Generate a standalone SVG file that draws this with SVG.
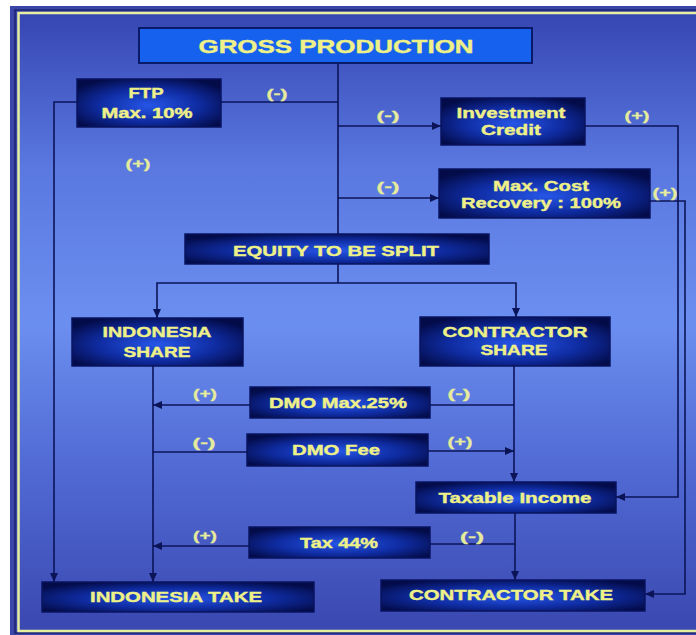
<svg xmlns="http://www.w3.org/2000/svg" width="696" height="635" viewBox="0 0 696 635">
<defs>
<linearGradient id="bg" x1="0" y1="0" x2="0" y2="1">
<stop offset="0" stop-color="#3646b2"/>
<stop offset="0.25" stop-color="#5a78e0"/>
<stop offset="0.5" stop-color="#6b8ff0"/>
<stop offset="0.75" stop-color="#5068d2"/>
<stop offset="1" stop-color="#3a48b0"/>
</linearGradient>
<radialGradient id="ng" cx="50%" cy="55%" r="62%">
<stop offset="0" stop-color="#2656e8"/>
<stop offset="0.55" stop-color="#0f2ca2"/>
<stop offset="1" stop-color="#030b48"/>
</radialGradient>
<marker id="ah" markerUnits="userSpaceOnUse" markerWidth="9" markerHeight="8" refX="9" refY="4" orient="auto">
<path d="M0,0 L9,4 L0,8 z" fill="#0c1458"/>
</marker>
<style>
.nd{fill:url(#ng);stroke:#0a1460;stroke-width:1.5}
.nt{font-family:"Liberation Sans",Arial,sans-serif;font-weight:bold;fill:#eef088;stroke:#eef088;stroke-width:0.4;text-anchor:middle;font-size:15px}
.lb{font-family:"Liberation Sans",Arial,sans-serif;font-weight:bold;fill:#e6ec9c;stroke:#e6ec9c;stroke-width:0.3;text-anchor:middle;font-size:13px}
.cn path{fill:none;stroke:#0c1458;stroke-width:1.6}
.ar{marker-end:url(#ah)}
</style>
</defs>
<rect x="0" y="0" width="696" height="635" fill="#ffffff"/>
<rect x="10" y="6" width="686" height="629" fill="#3a46a8"/>
<rect x="15" y="10" width="700" height="623" fill="none" stroke="#1c2470" stroke-width="1.5"/>
<rect x="18.5" y="13" width="700" height="618" fill="url(#bg)" stroke="#e8f0a0" stroke-width="2.5"/>

<g class="cn" id="connectors">
<path d="M77 102 H54 V582" class="ar"/>
<path d="M221 102 H338"/>
<path d="M338 62 V234"/>
<path d="M338 126 H441" class="ar"/>
<path d="M338 198 H439" class="ar"/>
<path d="M585 126 H678 V497 H616" class="ar"/>
<path d="M650 201 H685 V594 H645" class="ar"/>
<path d="M338 264 V283"/>
<path d="M338 283 H157 V318" class="ar"/>
<path d="M338 283 H516 V317" class="ar"/>
<path d="M153 366 V582" class="ar"/>
<path d="M250 405 H153" class="ar"/>
<path d="M514 405 H430"/>
<path d="M514 366 V482" class="ar"/>
<path d="M153 452 H247"/>
<path d="M428 451 H514" class="ar"/>
<path d="M515 513 V580" class="ar"/>
<path d="M515 544 H430"/>
<path d="M249 546 H153" class="ar"/>
</g>

<g id="labels">
<text class="lb" x="277" y="98" textLength="21" lengthAdjust="spacingAndGlyphs">(-)</text>
<text class="lb" x="138" y="168" textLength="25" lengthAdjust="spacingAndGlyphs">(+)</text>
<text class="lb" x="388" y="120" textLength="23" lengthAdjust="spacingAndGlyphs">(-)</text>
<text class="lb" x="637" y="120" textLength="25" lengthAdjust="spacingAndGlyphs">(+)</text>
<text class="lb" x="388" y="191" textLength="23" lengthAdjust="spacingAndGlyphs">(-)</text>
<text class="lb" x="665" y="197" textLength="25" lengthAdjust="spacingAndGlyphs">(+)</text>
<text class="lb" x="205" y="398" textLength="24" lengthAdjust="spacingAndGlyphs">(+)</text>
<text class="lb" x="459" y="398" textLength="23" lengthAdjust="spacingAndGlyphs">(-)</text>
<text class="lb" x="204" y="447" textLength="23" lengthAdjust="spacingAndGlyphs">(-)</text>
<text class="lb" x="460" y="446" textLength="25" lengthAdjust="spacingAndGlyphs">(+)</text>
<text class="lb" x="205" y="540" textLength="24" lengthAdjust="spacingAndGlyphs">(+)</text>
<text class="lb" x="472" y="541" textLength="24" lengthAdjust="spacingAndGlyphs">(-)</text>
</g>

<g id="gross">
<rect x="139" y="28" width="393" height="35" fill="#1662ee" stroke="#0a1a6a" stroke-width="2"/>
<text class="nt" x="336" y="53" textLength="275" lengthAdjust="spacingAndGlyphs" style="font-size:19px">GROSS PRODUCTION</text>
</g>
<g id="ftp">
<rect class="nd" x="77" y="79" width="144" height="48"/>
<text class="nt" x="146" y="98" textLength="35" lengthAdjust="spacingAndGlyphs" style="font-size:14px">FTP</text>
<text class="nt" x="147" y="118" textLength="91" lengthAdjust="spacingAndGlyphs" style="font-size:14px">Max. 10%</text>
</g>
<g id="invest">
<rect class="nd" x="441" y="98" width="144" height="47"/>
<text class="nt" x="511" y="118" textLength="109" lengthAdjust="spacingAndGlyphs">Investment</text>
<text class="nt" x="511" y="135" textLength="60" lengthAdjust="spacingAndGlyphs">Credit</text>
</g>
<g id="costrec">
<rect class="nd" x="439" y="169" width="211" height="49"/>
<text class="nt" x="541" y="191" textLength="96" lengthAdjust="spacingAndGlyphs">Max. Cost</text>
<text class="nt" x="541" y="208" textLength="160" lengthAdjust="spacingAndGlyphs">Recovery : 100%</text>
</g>
<g id="equity">
<rect class="nd" x="185" y="234" width="304" height="30"/>
<text class="nt" x="336" y="256" textLength="206" lengthAdjust="spacingAndGlyphs">EQUITY TO BE SPLIT</text>
</g>
<g id="indoshare">
<rect class="nd" x="72" y="318" width="171" height="48"/>
<text class="nt" x="157" y="337" textLength="109" lengthAdjust="spacingAndGlyphs">INDONESIA</text>
<text class="nt" x="157" y="357" textLength="67" lengthAdjust="spacingAndGlyphs">SHARE</text>
</g>
<g id="contshare">
<rect class="nd" x="420" y="317" width="190" height="49"/>
<text class="nt" x="515" y="337" textLength="145" lengthAdjust="spacingAndGlyphs">CONTRACTOR</text>
<text class="nt" x="514" y="355" textLength="67" lengthAdjust="spacingAndGlyphs">SHARE</text>
</g>
<g id="dmomax">
<rect class="nd" x="250" y="387" width="180" height="31"/>
<text class="nt" x="338" y="408" textLength="138" lengthAdjust="spacingAndGlyphs">DMO Max.25%</text>
</g>
<g id="dmofee">
<rect class="nd" x="247" y="434" width="181" height="32"/>
<text class="nt" x="336" y="455" textLength="88" lengthAdjust="spacingAndGlyphs">DMO Fee</text>
</g>
<g id="taxable">
<rect class="nd" x="416" y="482" width="200" height="31"/>
<text class="nt" x="515" y="503" textLength="153" lengthAdjust="spacingAndGlyphs">Taxable Income</text>
</g>
<g id="tax">
<rect class="nd" x="249" y="527" width="181" height="31"/>
<text class="nt" x="339" y="548" textLength="78" lengthAdjust="spacingAndGlyphs">Tax 44%</text>
</g>
<g id="indotake">
<rect class="nd" x="42" y="582" width="272" height="30"/>
<text class="nt" x="176" y="602" textLength="172" lengthAdjust="spacingAndGlyphs">INDONESIA TAKE</text>
</g>
<g id="conttake">
<rect class="nd" x="381" y="580" width="264" height="31"/>
<text class="nt" x="511" y="600" textLength="204" lengthAdjust="spacingAndGlyphs">CONTRACTOR TAKE</text>
</g>
</svg>
